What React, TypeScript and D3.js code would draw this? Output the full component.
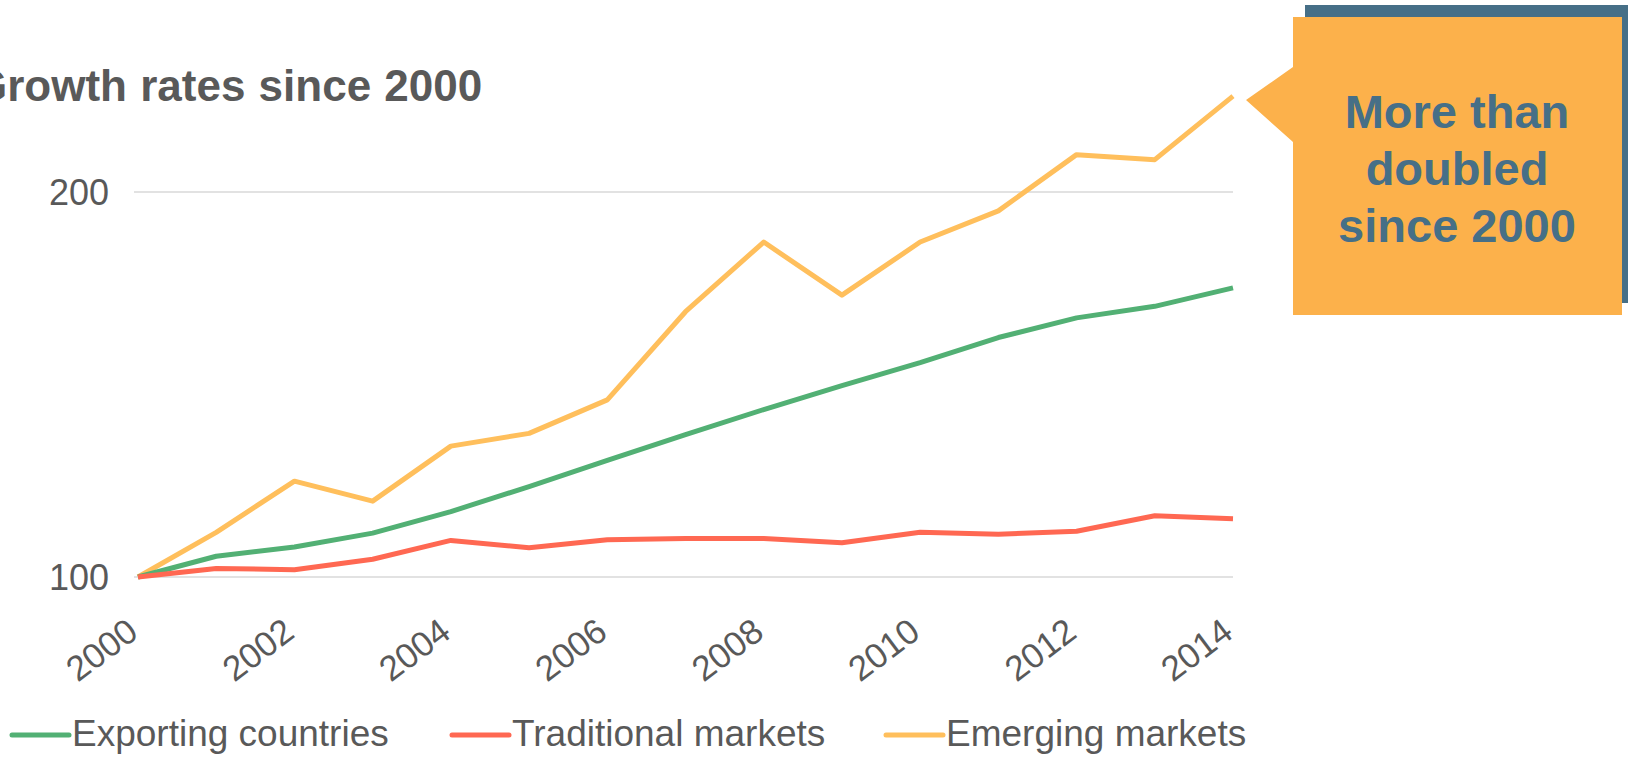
import React, { useEffect, useRef } from 'react'
import * as d3 from 'd3'

const years = [2000, 2001, 2002, 2003, 2004, 2005, 2006, 2007, 2008, 2009, 2010, 2011, 2012, 2013, 2014]
const exporting = [100, 105.4, 107.8, 111.4, 117, 123.5, 130.3, 137, 143.5, 149.7, 155.7, 162.2, 167.3, 170.3, 175.1]
const traditional = [100, 102.2, 101.9, 104.6, 109.5, 107.6, 109.7, 110, 110, 108.9, 111.6, 111.1, 111.9, 115.9, 115.1]
const emerging = [100, 111.6, 124.9, 119.7, 134, 137.3, 146, 168.9, 187, 173.2, 187, 195.1, 209.7, 208.4, 224.9]
const yTicks = [100, 200]
const xTicks = [2000, 2002, 2004, 2006, 2008, 2010, 2012, 2014]
const seriesNames = ['Exporting countries', 'Traditional markets', 'Emerging markets']
const calloutLines = ['More than', 'doubled', 'since 2000']

const colors = ['#52b074', '#ff6852', '#ffbf5c']
const W = 1630
const H = 760

const Chart = () => {
  const ref = useRef<SVGSVGElement>(null)

  useEffect(() => {
    const svg = d3.select(ref.current)
    svg.selectAll('*').remove()

    const x = d3.scaleLinear().domain([2000, 2014]).range([138, 1233])
    const y = d3.scaleLinear().domain([100, 200]).range([577, 192])

    // title, clipped at the left edge like the slide
    svg
      .append('text')
      .attr('x', -27)
      .attr('y', 101)
      .attr('font-family', 'Liberation Sans, Arial, sans-serif')
      .attr('font-weight', 'bold')
      .attr('font-size', 44)
      .attr('word-spacing', 1)
      .attr('fill', '#595959')
      .text('Growth rates since 2000')

    // gridlines
    svg
      .append('g')
      .selectAll('line')
      .data(yTicks)
      .join('line')
      .attr('x1', x(2000) - 4)
      .attr('x2', x(2014))
      .attr('y1', d => y(d))
      .attr('y2', d => y(d))
      .attr('stroke', '#d9d9d9')
      .attr('stroke-width', 1.5)

    // y labels
    svg
      .append('g')
      .selectAll('text')
      .data(yTicks)
      .join('text')
      .attr('x', 109)
      .attr('y', d => y(d))
      .attr('dy', '0.36em')
      .attr('text-anchor', 'end')
      .attr('font-family', 'Liberation Sans, Arial, sans-serif')
      .attr('font-size', 36)
      .attr('fill', '#595959')
      .text(d => d)

    // x labels, rotated
    svg
      .append('g')
      .selectAll('text')
      .data(xTicks)
      .join('text')
      .attr('transform', d => `translate(${x(d) + 2},${636}) rotate(-37)`)
      .attr('text-anchor', 'end')
      .attr('font-family', 'Liberation Sans, Arial, sans-serif')
      .attr('font-size', 35)
      .attr('fill', '#595959')
      .text(d => d)

    const line = d3
      .line<number>()
      .x((_, i) => x(years[i]))
      .y(d => y(d))

    const series = [exporting, traditional, emerging]
    // emerging first so green/red sit on top
    ;[2, 0, 1].forEach(i => {
      svg
        .append('path')
        .datum(series[i])
        .attr('d', line)
        .attr('fill', 'none')
        .attr('stroke', colors[i])
        .attr('stroke-width', 5)
        .attr('stroke-linejoin', 'round')
    })

    // legend
    const legendX = [12, 452, 886]
    const lg = svg
      .append('g')
      .selectAll('g')
      .data(seriesNames)
      .join('g')
      .attr('transform', (_, i) => `translate(${legendX[i]},735)`)
    lg.append('line')
      .attr('x1', 0)
      .attr('x2', 57)
      .attr('stroke', (_, i) => colors[i])
      .attr('stroke-width', 5)
      .attr('stroke-linecap', 'round')
    lg.append('text')
      .attr('x', 60)
      .attr('y', 11)
      .attr('font-family', 'Liberation Sans, Arial, sans-serif')
      .attr('font-size', 37)
      .attr('fill', '#595959')
      .text(d => d)

    // callout box
    const callout = svg.append('g')
    callout.append('rect').attr('x', 1305).attr('y', 5).attr('width', 323).attr('height', 298).attr('fill', '#466f87')
    callout
      .append('path')
      .attr('d', 'M1293,17 L1622,17 L1622,315 L1293,315 L1293,142 L1246,100 L1293,67 Z')
      .attr('fill', '#fcb14b')
    callout
      .append('text')
      .attr('text-anchor', 'middle')
      .attr('font-family', 'Liberation Sans, Arial, sans-serif')
      .attr('font-weight', 'bold')
      .attr('font-size', 47)
      .attr('fill', '#466f87')
      .selectAll('tspan')
      .data(calloutLines)
      .join('tspan')
      .attr('x', 1457)
      .attr('y', (_, i) => 128 + i * 57)
      .text(d => d)
  }, [])

  return (
    <svg
      ref={ref}
      width={W}
      height={H}
      style={{ position: 'absolute', left: 0, top: 0, display: 'block', background: '#fff' }}
    />
  )
}

const App = () => {
  return (
    <div>
      <Chart />
    </div>
  )
}

export default App
